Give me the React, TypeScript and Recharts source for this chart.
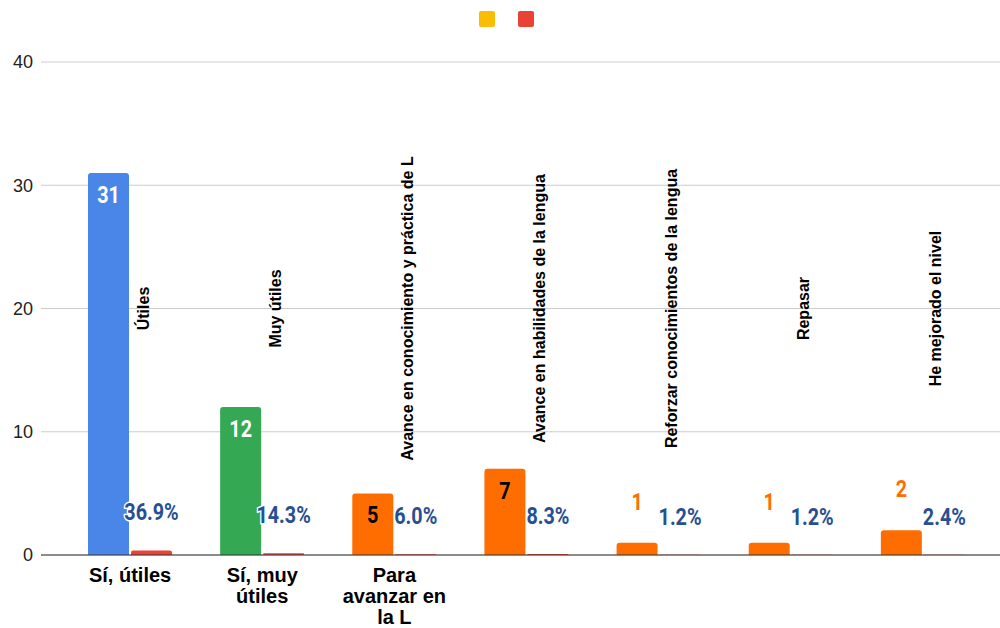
import { ComposedChart, Bar, Line, Cell, XAxis, YAxis, CartesianGrid, Legend, LabelList } from 'recharts';

const categories = ['Sí, útiles', 'Sí, muy útiles', 'Para avanzar en la L', '', '', '', ''];
const counts = [31, 12, 5, 7, 1, 1, 2];
const shares = [0.369, 0.143, 0.06, 0.083, 0.012, 0.012, 0.024];
const subLabels = [
  'Útiles',
  'Muy útiles',
  'Avance en conocimiento y práctica de L',
  'Avance en habilidades de la lengua',
  'Reforzar conocimientos de la lengua',
  'Repasar',
  'He mejorado el nivel',
];
const yTicks = [0, 10, 20, 30, 40];

const BLUE = '#4a86e8';
const GREEN = '#34a853';
const ORANGE = '#ff6d01';
const RED = '#ea4335';
const YELLOW = '#fbbc04';
const PCT = '#284f91';
const barColors = [BLUE, GREEN, ORANGE, ORANGE, ORANGE, ORANGE, ORANGE];

// rotated sub-labels sit at the middle of the value axis
const LABEL_ANCHOR = 20;

const data = categories.map((name, i) => ({
  idx: i,
  name,
  count: counts[i],
  share: shares[i],
  sub: subLabels[i],
  anchor: LABEL_ANCHOR,
}));

const cond = "Roboto, 'Liberation Sans', Arial, sans-serif";
const sans = "'Liberation Sans', Arial, sans-serif";

// labels in the source use a condensed bold face, squeeze Roboto a bit
const Condensed = ({ x, y, fill, halo, children }: any) => (
  <text
    x={x}
    y={y}
    transform={`translate(${x} 0) scale(0.86 1) translate(${-x} 0)`}
    textAnchor="middle"
    fill={fill}
    stroke={halo ? '#fff' : undefined}
    strokeWidth={halo ? 3 : undefined}
    paintOrder="stroke"
    fontFamily={cond}
    fontWeight="bold"
    fontSize={23}
  >
    {children}
  </text>
);

const CountLabel = (props: any) => {
  const { x, y, width, value, index } = props;
  const inside = value >= 5;
  const color = barColors[index];
  const fill = inside ? (color === ORANGE ? '#000' : '#fff') : color;
  const ty = inside ? y + 30 : y - 33;
  return (
    <Condensed x={x + width / 2} y={ty} fill={fill}>
      {value}
    </Condensed>
  );
};

const ShareLabel = (props: any) => {
  const { x, y, width, value } = props;
  return (
    <Condensed x={x + width / 2} y={y - 30} fill={PCT} halo>
      {(value * 100).toFixed(1)}%
    </Condensed>
  );
};

const SubLabel = (props: any) => {
  const { x, y, index } = props;
  const cx = x + 13;
  return (
    <text
      x={cx}
      y={y}
      transform={`rotate(-90 ${cx} ${y})`}
      textAnchor="middle"
      dominantBaseline="central"
      fill="#000"
      fontFamily={sans}
      fontWeight="bold"
      fontSize={16}
    >
      {subLabels[index]}
    </text>
  );
};

const wrapWords = (text: string, max: number) => {
  const lines: string[] = [];
  let cur = '';
  text.split(' ').forEach((w) => {
    const next = cur ? `${cur} ${w}` : w;
    if (next.length > max && cur) {
      lines.push(cur);
      cur = w;
    } else {
      cur = next;
    }
  });
  if (cur) lines.push(cur);
  return lines;
};

const CategoryTick = (props: any) => {
  const { x, y, payload } = props;
  const label = categories[payload.value] || '';
  const lines = wrapWords(label, 10);
  return (
    <text x={x} y={y} textAnchor="middle" fill="#000" fontFamily={sans} fontWeight="bold" fontSize={20}>
      {lines.map((l, i) => (
        <tspan key={i} x={x} dy={i === 0 ? 19 : 21}>
          {l}
        </tspan>
      ))}
    </text>
  );
};

const LegendSquares = () => (
  <div style={{ display: 'flex', justifyContent: 'center', height: 32, paddingLeft: 13, boxSizing: 'border-box' }}>
    <div style={{ width: 16, height: 16, marginTop: 11, borderRadius: 2, background: YELLOW }} />
    <div style={{ width: 16, height: 16, marginTop: 11, marginLeft: 23, borderRadius: 2, background: RED }} />
  </div>
);

export default function App() {
  return (
    <div style={{ position: 'absolute', left: 0, top: 0, width: 1000, height: 628, background: '#fff' }}>
      <ComposedChart
        width={1000}
        height={628}
        data={data}
        margin={{ top: 30, right: 0, bottom: 0, left: 0 }}
        barGap={2}
        barCategoryGap={24}
      >
        <CartesianGrid vertical={false} stroke="#cccccc" />
        <Legend verticalAlign="top" align="center" wrapperStyle={{ top: 0, left: 0, width: 1000 }} content={<LegendSquares />} />
        <XAxis
          dataKey="idx"
          type="category"
          height={73}
          padding={{ left: 23, right: 11 }}
          axisLine={{ stroke: '#333333' }}
          tickLine={false}
          interval={0}
          tick={<CategoryTick />}
        />
        <YAxis
          domain={[0, 40]}
          ticks={yTicks}
          width={41}
          axisLine={false}
          tickLine={false}
          tick={{ fill: '#222', fontSize: 18, fontFamily: sans }}
        />
        <Bar dataKey="count" isAnimationActive={false} radius={[3, 3, 0, 0]}>
          {data.map((d, i) => (
            <Cell key={i} fill={barColors[i]} />
          ))}
          <LabelList dataKey="count" content={<CountLabel />} />
        </Bar>
        <Bar dataKey="share" fill={RED} isAnimationActive={false} radius={[2, 2, 0, 0]}>
          <LabelList dataKey="share" content={<ShareLabel />} />
        </Bar>
        <Line
          dataKey="anchor"
          stroke="none"
          dot={false}
          activeDot={false}
          legendType="none"
          isAnimationActive={false}
        >
          <LabelList dataKey="sub" content={<SubLabel />} />
        </Line>
      </ComposedChart>
    </div>
  );
}
